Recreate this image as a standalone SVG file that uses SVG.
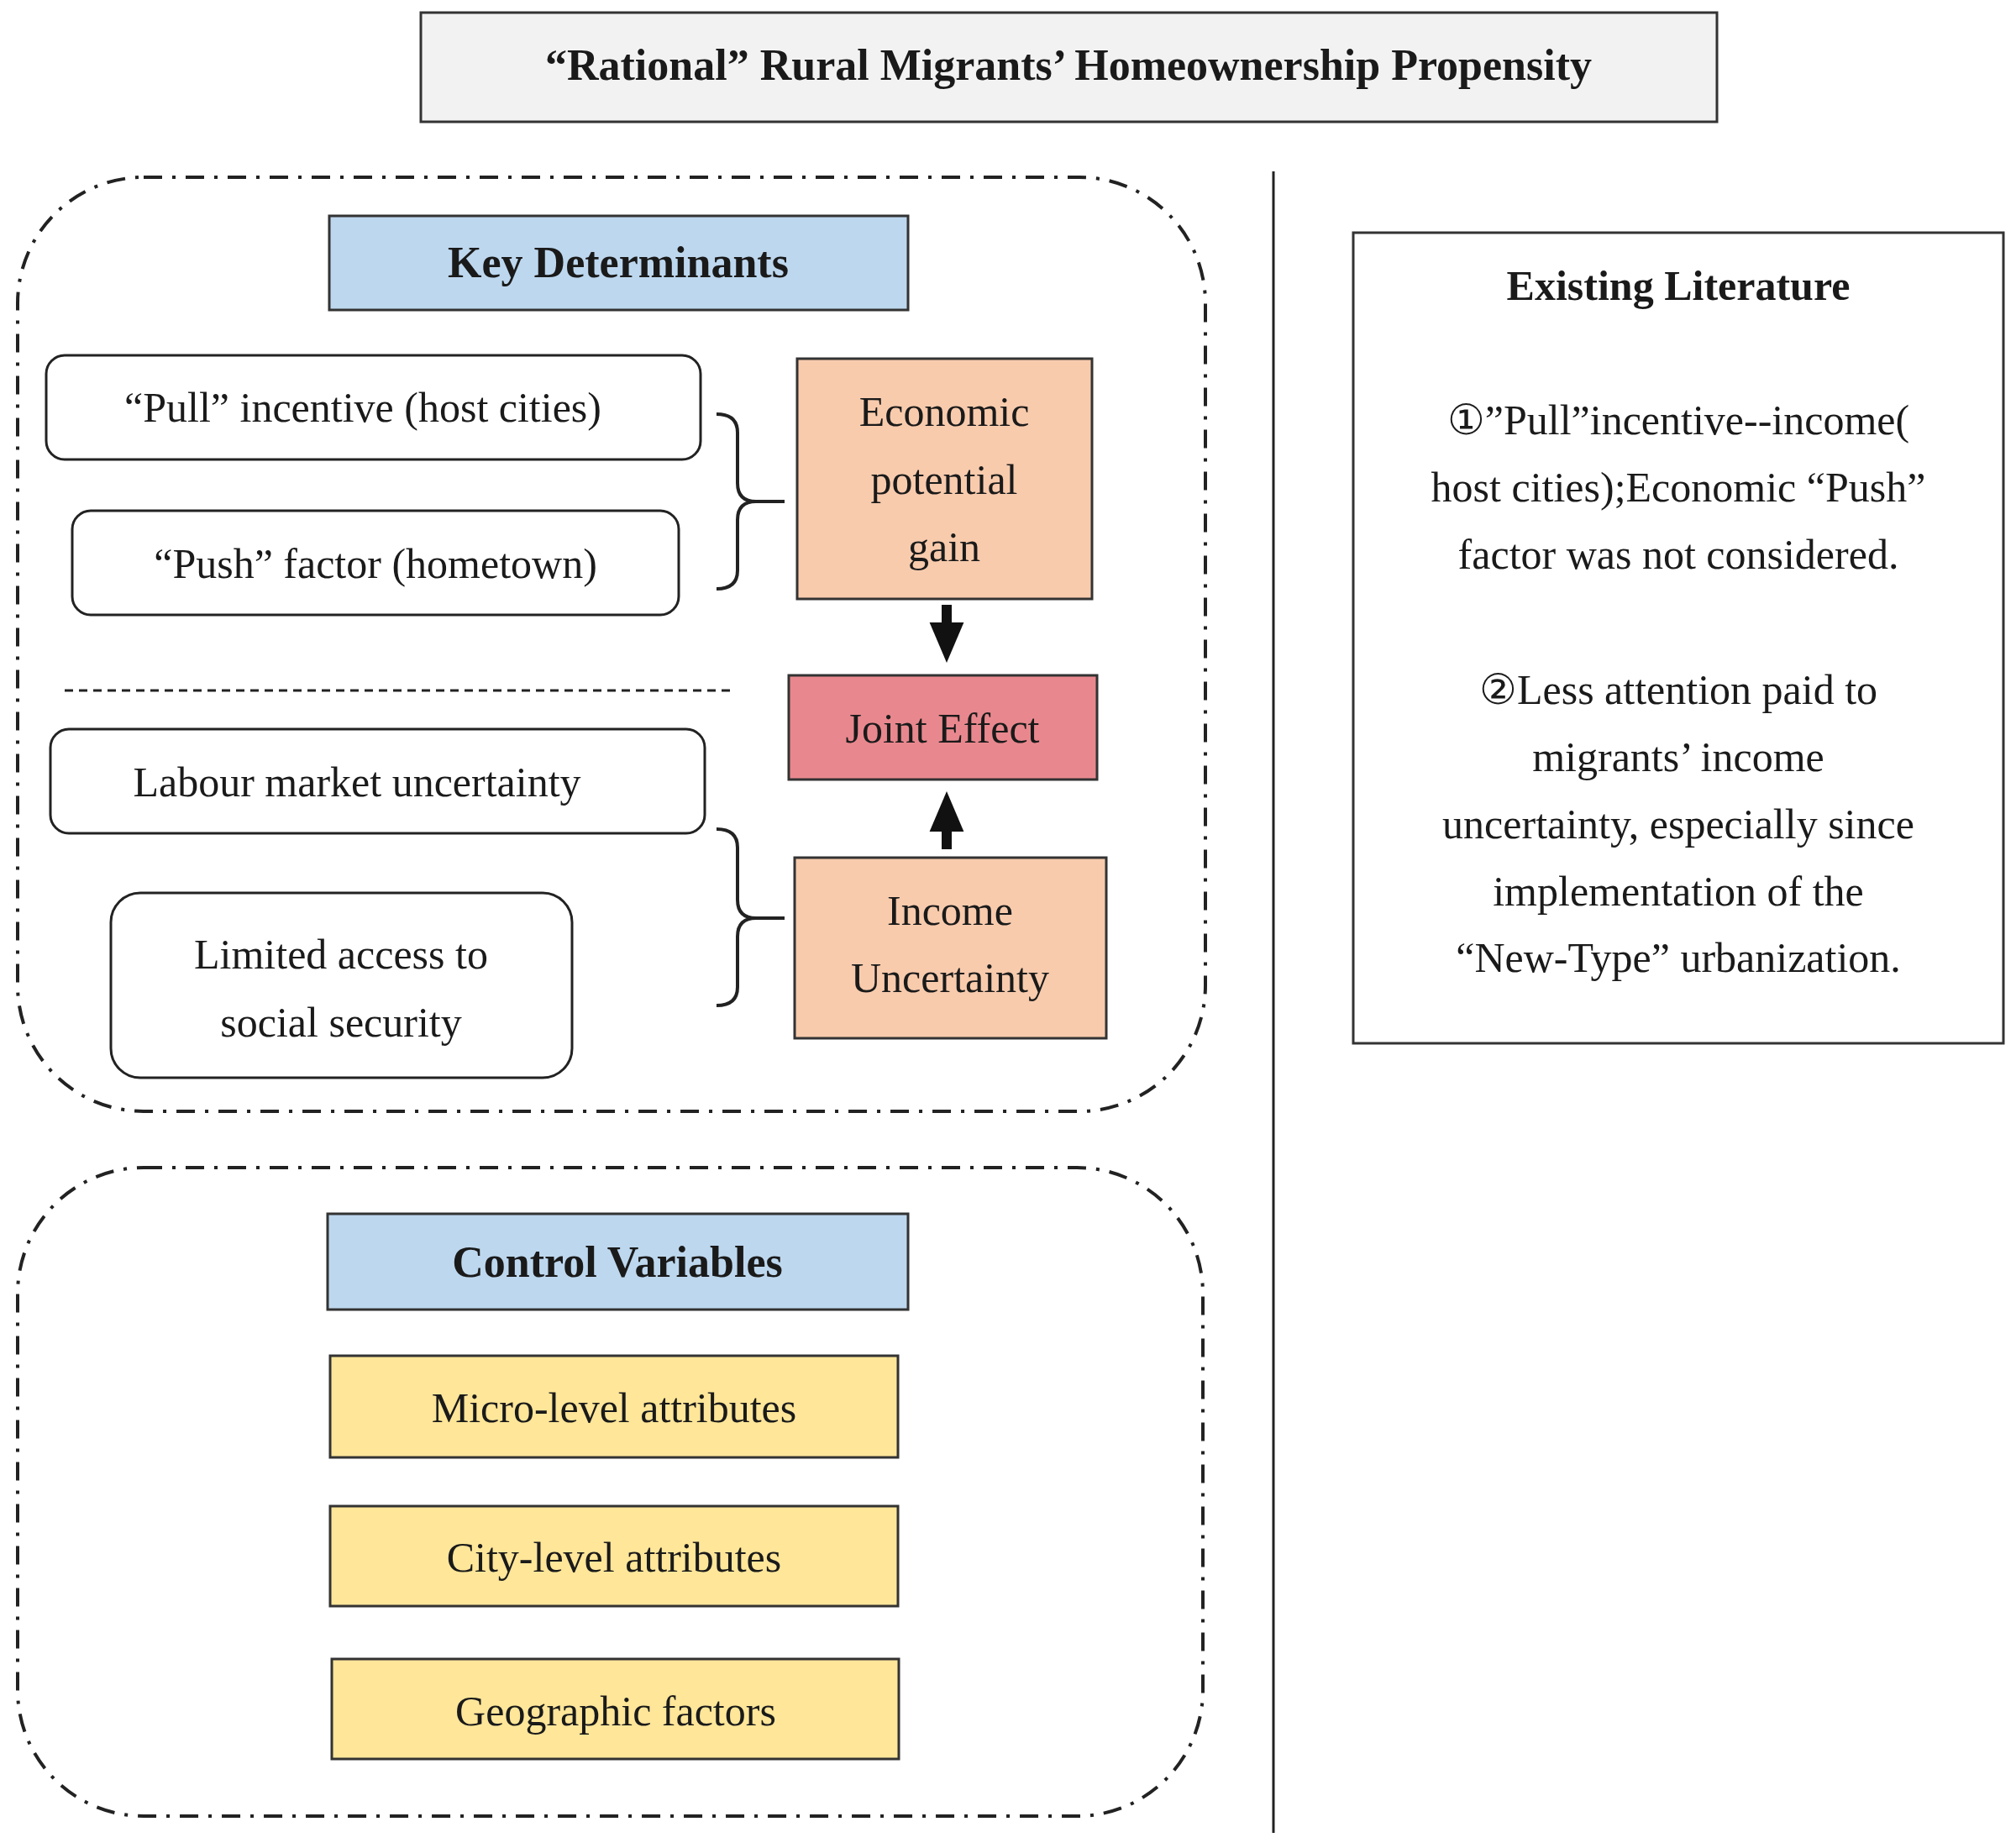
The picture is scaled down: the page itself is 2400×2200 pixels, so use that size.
<svg xmlns="http://www.w3.org/2000/svg" width="2400" height="2200" viewBox="0 0 2400 2200">
<style>
text{font-family:"Liberation Serif","DejaVu Serif",serif;font-size:50px;fill:#1a1a1a;text-anchor:middle}
.b{font-weight:bold;font-size:52px}
.box{stroke:#333;stroke-width:3}
.rb{fill:#fff;stroke:#222;stroke-width:3}
.reg{fill:none;stroke:#222;stroke-width:4;stroke-dasharray:22 12 4 12}
.ln{fill:none;stroke:#222;stroke-width:4}
</style>
<defs><marker id="ah" markerWidth="4" markerHeight="4" refX="2" refY="2" orient="auto" markerUnits="strokeWidth"><path d="M0,0.3 L4,2 L0,3.7Z" fill="#111"/></marker></defs>
<rect width="2400" height="2200" fill="#fff"/>
<g id="title"><rect x="501" y="15" width="1543" height="130" fill="#f2f2f2" class="box"/><text x="1272" y="95" class="b">“Rational” Rural Migrants’ Homeownership Propensity</text></g>
<g id="regions"><rect x="21" y="211" width="1414" height="1112" rx="150" class="reg"/><rect x="21" y="1390" width="1411" height="772" rx="150" class="reg"/><line x1="1516" y1="204" x2="1516" y2="2182" stroke="#222" stroke-width="3"/><line x1="77" y1="822" x2="876" y2="822" stroke="#222" stroke-width="3" stroke-dasharray="10 7"/></g>
<g id="key"><rect x="392" y="257" width="689" height="112" fill="#bdd7ee" class="box"/><text x="736" y="330" class="b">Key Determinants</text></g>
<g id="pull"><rect x="55" y="423" width="779" height="124" rx="22" class="rb"/><text x="432" y="502">“Pull” incentive (host cities)</text></g>
<g id="push"><rect x="86" y="608" width="722" height="124" rx="22" class="rb"/><text x="447" y="688">“Push” factor (hometown)</text></g>
<g id="econ"><rect x="949" y="427" width="351" height="286" fill="#f8cbad" class="box"/><text x="1124" y="507">Economic</text><text x="1124" y="588">potential</text><text x="1124" y="668">gain</text></g>
<g id="joint"><rect x="939" y="804" width="367" height="124" fill="#e8888e" class="box"/><text x="1122" y="884">Joint Effect</text></g>
<g id="labour"><rect x="60" y="868" width="779" height="124" rx="22" class="rb"/><text x="425" y="948">Labour market uncertainty</text></g>
<g id="limited"><rect x="132" y="1063" width="549" height="220" rx="35" class="rb"/><text x="406" y="1153">Limited access to</text><text x="406" y="1234">social security</text></g>
<g id="income"><rect x="946" y="1021" width="371" height="215" fill="#f8cbad" class="box"/><text x="1131" y="1101">Income</text><text x="1131" y="1181">Uncertainty</text></g>
<g id="control"><rect x="390" y="1445" width="691" height="114" fill="#bdd7ee" class="box"/><text x="735" y="1520" class="b">Control Variables</text></g>
<g id="micro"><rect x="393" y="1614" width="676" height="121" fill="#ffe699" class="box"/><text x="731" y="1693">Micro-level attributes</text></g>
<g id="city"><rect x="393" y="1793" width="676" height="119" fill="#ffe699" class="box"/><text x="731" y="1871">City-level attributes</text></g>
<g id="geo"><rect x="395" y="1975" width="675" height="119" fill="#ffe699" class="box"/><text x="733" y="2054">Geographic factors</text></g>
<g id="lit"><rect x="1611" y="277" width="774" height="965" fill="#fff" stroke="#333" stroke-width="3"/>
<text x="1998" y="357" class="b" style="font-size:50px">Existing Literature</text>
<text x="1998" y="517">①”Pull”incentive--income(</text><text x="1998" y="597">host cities);Economic “Push”</text><text x="1998" y="677">factor was not considered.</text>
<text x="1998" y="838">②Less attention paid to</text><text x="1998" y="918">migrants’ income</text><text x="1998" y="998">uncertainty, especially since</text><text x="1998" y="1078">implementation of the</text><text x="1998" y="1157">“New-Type” urbanization.</text></g>
<g id="connectors">
<path class="ln" d="M853,493 Q878,493 878,515 L878,575 Q878,597 900,597 L934,597 M900,597 Q878,597 878,619 L878,679 Q878,701 853,701"/>
<path class="ln" d="M853,987 Q878,987 878,1009 L878,1071 Q878,1093 900,1093 L934,1093 M900,1093 Q878,1093 878,1115 L878,1175 Q878,1197 853,1197"/>
<line x1="1127" y1="720" x2="1127" y2="765" stroke="#111" stroke-width="12" marker-end="url(#ah)"/>
<line x1="1127" y1="1011" x2="1127" y2="966" stroke="#111" stroke-width="12" marker-end="url(#ah)"/>
</g>
</svg>
